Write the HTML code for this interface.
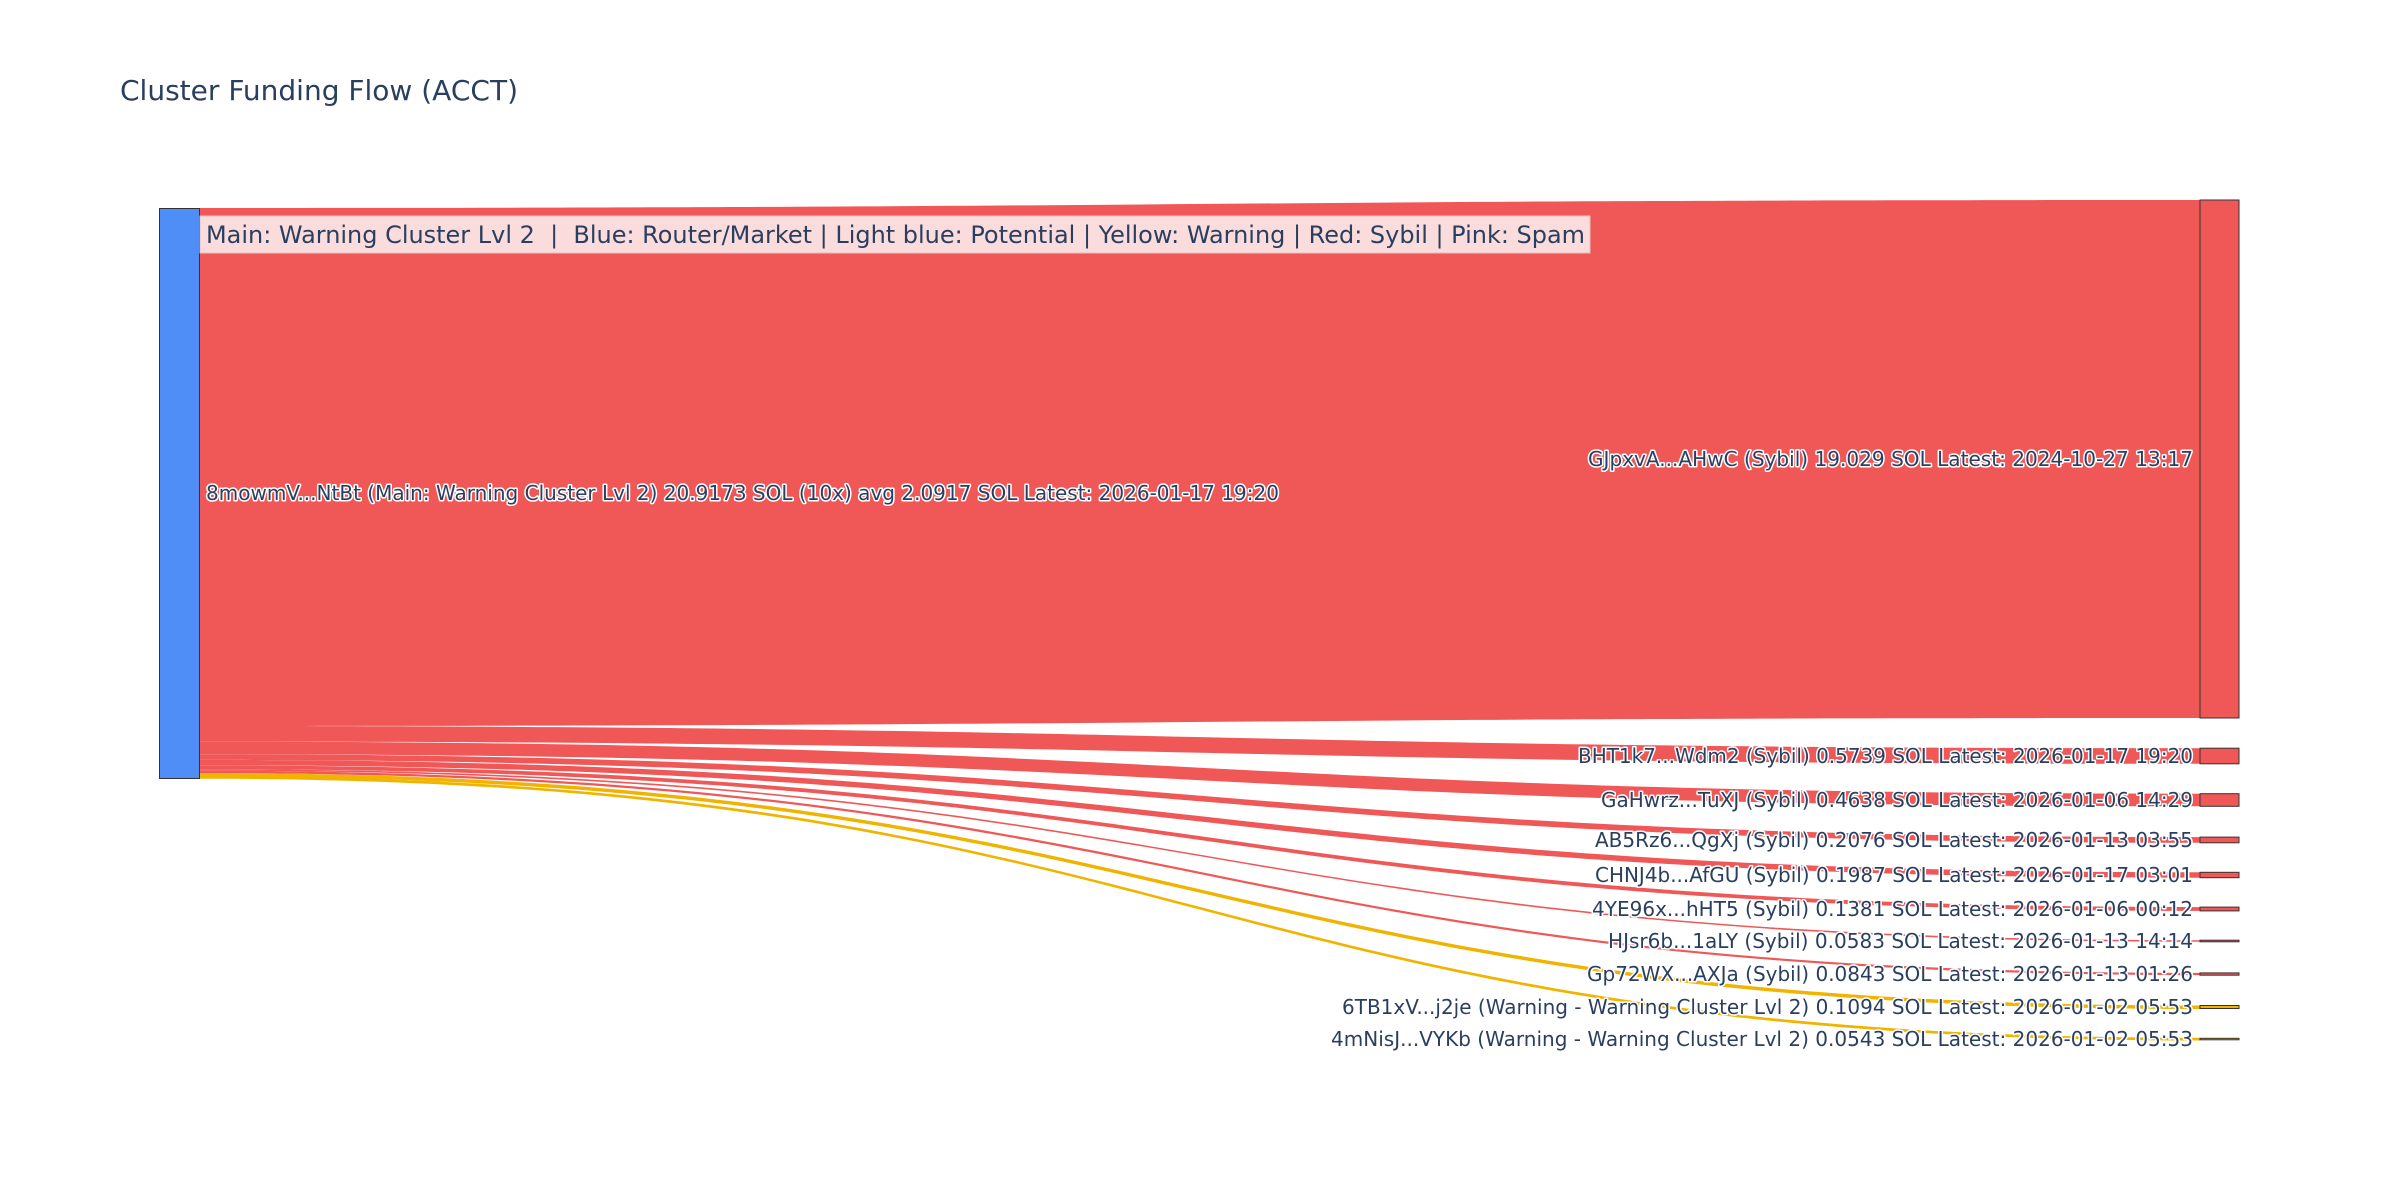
<!DOCTYPE html>
<html><head><meta charset="utf-8"><style>
html,body{margin:0;padding:0;background:#fff;}
svg{display:block;}
text{font-family:"DejaVu Sans","Liberation Sans",sans-serif;fill:#2a3f5f;}
.lb{font-size:20px;paint-order:stroke;stroke:#fff;stroke-width:3px;stroke-linejoin:round;}
</style></head><body>
<svg width="2400" height="1200" viewBox="0 0 2400 1200" xmlns="http://www.w3.org/2000/svg">
<rect width="2400" height="1200" fill="#fff"/>
<text x="120" y="100" font-size="28" textLength="398" lengthAdjust="spacingAndGlyphs">Cluster Funding Flow (ACCT)</text>
<g>
<path d="M199,208 C1200,208 1200,200 2200,200 L2200,718 C1200,718 1200,726 199,726 Z" fill="#f05858"/>
<path d="M199,726 C1200,726 1200,748.2 2200,748.2 L2200,763.8 C1200,763.8 1200,741.6 199,741.6 Z" fill="#f05858"/>
<path d="M199,741.6 C1200,741.6 1200,793.7 2200,793.7 L2200,806.3 C1200,806.3 1200,754.2 199,754.2 Z" fill="#f05858"/>
<path d="M199,754.2 C1200,754.2 1200,837.1 2200,837.1 L2200,842.8 C1200,842.8 1200,759.9 199,759.9 Z" fill="#f05858"/>
<path d="M199,759.9 C1200,759.9 1200,872.3 2200,872.3 L2200,877.7 C1200,877.7 1200,765.3 199,765.3 Z" fill="#f05858"/>
<path d="M199,765.3 C1200,765.3 1200,907.1 2200,907.1 L2200,910.9 C1200,910.9 1200,769.1 199,769.1 Z" fill="#f05858"/>
<path d="M199,769.1 C1200,769.1 1200,940.2 2200,940.2 L2200,941.8 C1200,941.8 1200,770.7 199,770.7 Z" fill="#f05858"/>
<path d="M199,770.7 C1200,770.7 1200,972.9 2200,972.9 L2200,975.1 C1200,975.1 1200,773 199,773 Z" fill="#f05858"/>
<path d="M199,773 C1200,773 1200,1005.5 2200,1005.5 L2200,1009 C1200,1009 1200,776.5 199,776.5 Z" fill="#f0b400"/>
<path d="M199,776 C1200,776 1200,1037.8 2200,1037.8 L2200,1040.5 C1200,1040.5 1200,778.7 199,778.7 Z" fill="#f0b400"/>
</g>
<g stroke="#333" stroke-width="1">
<rect x="159.5" y="208.5" width="40" height="570" fill="#4f8ef7"/>
<rect x="2200" y="200" width="39" height="518" fill="#f05858"/>
<rect x="2200" y="748.2" width="39" height="15.6" fill="#f05858"/>
<rect x="2200" y="793.7" width="39" height="12.6" fill="#f05858"/>
<rect x="2200" y="837.1" width="39" height="5.7" fill="#f05858"/>
<rect x="2200" y="872.3" width="39" height="5.4" fill="#f05858"/>
<rect x="2200" y="907.1" width="39" height="3.8" fill="#f05858"/>
<rect x="2200" y="940.2" width="39" height="1.6" fill="#f05858"/>
<rect x="2200" y="972.9" width="39" height="2.3" fill="#f05858"/>
<rect x="2200" y="1005.5" width="39" height="3" fill="#f0b400"/>
<rect x="2200" y="1038.3" width="39" height="1.5" fill="#f0b400"/>
</g>
<rect x="200" y="216" width="1390" height="37" fill="#fadcdc" stroke="#e8c0c0" stroke-width="1"/>
<text x="206" y="243" font-size="24" textLength="1379" lengthAdjust="spacingAndGlyphs" style="white-space:pre" xml:space="preserve">Main: Warning Cluster Lvl 2  |  Blue: Router/Market | Light blue: Potential | Yellow: Warning | Red: Sybil | Pink: Spam</text>
<text class="lb" x="206" y="500" textLength="1073" lengthAdjust="spacingAndGlyphs">8mowmV...NtBt (Main: Warning Cluster Lvl 2) 20.9173 SOL (10x) avg 2.0917 SOL Latest: 2026-01-17 19:20</text>
<g text-anchor="end">
<text class="lb" x="2193" y="466" textLength="605" lengthAdjust="spacingAndGlyphs">GJpxvA...AHwC (Sybil) 19.029 SOL Latest: 2024-10-27 13:17</text>
<text class="lb" x="2193" y="763" textLength="615" lengthAdjust="spacingAndGlyphs">BHT1k7...Wdm2 (Sybil) 0.5739 SOL Latest: 2026-01-17 19:20</text>
<text class="lb" x="2193" y="807" textLength="592" lengthAdjust="spacingAndGlyphs">GaHwrz...TuXJ (Sybil) 0.4638 SOL Latest: 2026-01-06 14:29</text>
<text class="lb" x="2193" y="847" textLength="598" lengthAdjust="spacingAndGlyphs">AB5Rz6...QgXj (Sybil) 0.2076 SOL Latest: 2026-01-13 03:55</text>
<text class="lb" x="2193" y="882" textLength="598" lengthAdjust="spacingAndGlyphs">CHNJ4b...AfGU (Sybil) 0.1987 SOL Latest: 2026-01-17 03:01</text>
<text class="lb" x="2193" y="916" textLength="601" lengthAdjust="spacingAndGlyphs">4YE96x...hHT5 (Sybil) 0.1381 SOL Latest: 2026-01-06 00:12</text>
<text class="lb" x="2193" y="948" textLength="585" lengthAdjust="spacingAndGlyphs">HJsr6b...1aLY (Sybil) 0.0583 SOL Latest: 2026-01-13 14:14</text>
<text class="lb" x="2193" y="981" textLength="606" lengthAdjust="spacingAndGlyphs">Gp72WX...AXJa (Sybil) 0.0843 SOL Latest: 2026-01-13 01:26</text>
<text class="lb" x="2193" y="1014" textLength="851" lengthAdjust="spacingAndGlyphs">6TB1xV...j2je (Warning - Warning Cluster Lvl 2) 0.1094 SOL Latest: 2026-01-02 05:53</text>
<text class="lb" x="2193" y="1046" textLength="862" lengthAdjust="spacingAndGlyphs">4mNisJ...VYKb (Warning - Warning Cluster Lvl 2) 0.0543 SOL Latest: 2026-01-02 05:53</text>
</g>
</svg>
</body></html>
